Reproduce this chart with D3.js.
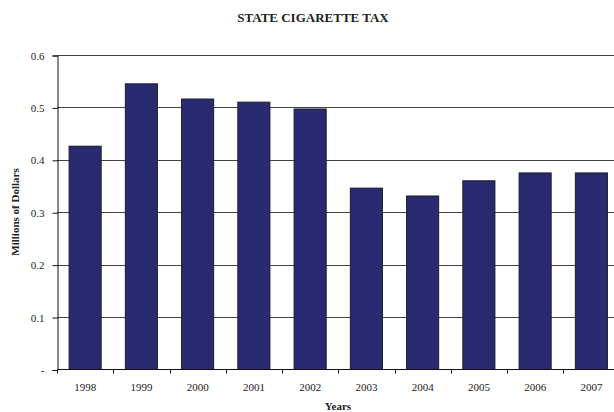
<!DOCTYPE html>
<html>
<head>
<meta charset="utf-8">
<script src="https://cdn.jsdelivr.net/npm/d3@7"></script>
<style>
  body { margin: 0; background: #fff; }
  text { font-family: "Liberation Serif", "DejaVu Serif", serif; fill: #222; }
</style>
</head>
<body>
<svg id="chart" width="614" height="412"></svg>
<script>
// chart data
var years  = ["1998", "1999", "2000", "2001", "2002", "2003", "2004", "2005", "2006", "2007"]
var values = [0.426, 0.545, 0.516, 0.510, 0.497, 0.346, 0.331, 0.360, 0.375, 0.375]
var yTicks = [0, 0.1, 0.2, 0.3, 0.4, 0.5, 0.6]

var svg = d3.select("#chart")
var plotLeft = 57, plotTop = 55, plotRight = 619.5, plotBottom = 369.5

var x = d3.scaleBand().domain(years).range([plotLeft, plotRight]).paddingInner(0.43).paddingOuter(0.215)
var y = d3.scaleLinear().domain([0, 0.6]).range([plotBottom, plotTop])

// gridlines
svg.append("g").selectAll("line")
    .data(yTicks.slice(1))
    .enter()
        .append("line")
        .attr("x1", plotLeft).attr("x2", plotRight)
        .attr("y1", function(d){return Math.round(y(d)) + 0.5})
        .attr("y2", function(d){return Math.round(y(d)) + 0.5})
        .attr("stroke", "#444")
        .attr("stroke-width", 1)

// bars
svg.append("g").selectAll("rect")
    .data(values)
    .enter()
        .append("rect")
        .attr("x", function(d, i){return x(years[i])})
        .attr("y", function(d){return y(d)})
        .attr("width", x.bandwidth())
        .attr("height", function(d){return plotBottom - y(d)})
        .attr("fill", "#292a70")
        .attr("stroke", "#1a1a2a")
        .attr("stroke-width", 1)

// y axis
var yAxis = d3.axisLeft(y).tickValues(yTicks).tickSize(5).tickPadding(8)
    .tickFormat(function(d){return d === 0 ? "-" : d3.format(".1f")(d)})
var gy = svg.append("g").attr("transform", "translate(" + (plotLeft + 0.5) + ",0.5)").call(yAxis)
gy.select(".domain").attr("stroke", "#111")
gy.selectAll(".tick line").attr("stroke", "#111")
gy.selectAll(".tick text").attr("font-size", 11).attr("font-family", "Liberation Serif").attr("fill", "#222")

// x axis
var boundaries = years.map(function(d){return x(d) - x.step() * x.paddingInner() / 2})
var gx = svg.append("g")
gx.append("line").attr("x1", plotLeft).attr("x2", plotRight)
    .attr("y1", plotBottom).attr("y2", plotBottom).attr("stroke", "#111")
gx.selectAll("line.tick")
    .data(boundaries)
    .enter()
        .append("line")
        .attr("class", "tick")
        .attr("x1", function(d){return Math.round(d) + 0.5})
        .attr("x2", function(d){return Math.round(d) + 0.5})
        .attr("y1", plotBottom).attr("y2", plotBottom + 4)
        .attr("stroke", "#111")
gx.selectAll("text")
    .data(years)
    .enter()
        .append("text")
        .attr("x", function(d){return x(d) + x.bandwidth() / 2})
        .attr("y", 391)
        .attr("text-anchor", "middle")
        .attr("font-size", 11)
        .text(function(d){return d})

// titles
svg.append("text").attr("x", 313).attr("y", 22).attr("text-anchor", "middle")
    .attr("font-size", 13).attr("font-weight", "bold").text("STATE CIGARETTE TAX")
svg.append("text").attr("x", 338).attr("y", 410).attr("text-anchor", "middle")
    .attr("font-size", 11).attr("font-weight", "bold").text("Years")
svg.append("text").attr("transform", "translate(19,212) rotate(-90)").attr("text-anchor", "middle")
    .attr("font-size", 11).attr("font-weight", "bold").text("Millions of Dollars")
</script>
</body>
</html>
